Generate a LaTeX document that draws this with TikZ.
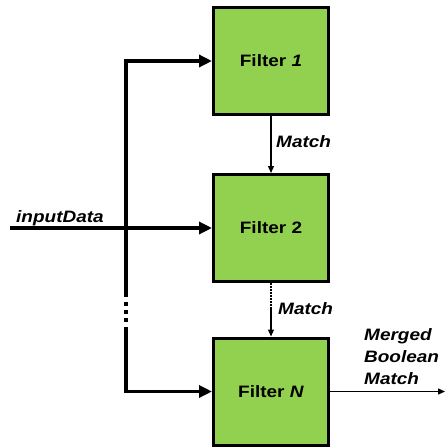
\documentclass[tikz,border=0pt]{standalone}
\usepackage{fontspec}
\usepackage{xcolor}
\usepackage{tikz}
\usetikzlibrary{arrows.meta}

\newfontfamily\diagfont[FakeStretch=1.15]{Liberation Sans}
\definecolor{filtergreen}{HTML}{92D050}

\tikzset{
  filterbox/.style={draw=black, line width=3pt, fill=filtergreen, inner sep=0pt,
    minimum width=115pt, minimum height=107pt, font=\diagfont\fontsize{16.5}{20}\bfseries},
  busline/.style={line width=3.5pt},
  busarrow/.style={busline, -{Triangle[length=13pt,width=12pt]}},
  matchline/.style={line width=1.2pt},
  matcharrow/.style={matchline, -{Triangle[length=7pt,width=6pt]}},
  sig/.style={inner sep=0pt, font=\diagfont\fontsize{16.5}{22}\bfseries\itshape}
}

\begin{document}
\begin{tikzpicture}[x=1pt, y=-1pt]
        \useasboundingbox (0,0) rectangle (445,447);

        % Filter blocks
        \node[filterbox] (filterA) at (271,61) {Filter \textit{1}};
        \node[filterbox] (filterB) at (271,228) {Filter 2};
        \node[filterbox] (filterN) at (271,391.5) {Filter \textit{N}};

        % Bus points
        \coordinate (busx) at (126,0);
        \coordinate (in) at (10,228);
        \coordinate (gapTop) at (126,297);
        \coordinate (dotsA) at (126,302);
        \coordinate (dotsB) at (126,322);
        \coordinate (gapBot) at (126,327);
        \coordinate (out) at (445,0);
        \coordinate (matchDots) at (271,308);

        % Input bus
        \draw[busarrow] (in) -- (filterB.west);
        \draw[busarrow] (gapTop) -- (busx |- filterA.west) -- (filterA.west);
        \draw[busline, dash pattern=on 3.5pt off 4.5pt] (dotsA) -- (dotsB);
        \draw[busarrow] (gapBot) -- (busx |- filterN.west) -- (filterN.west);

        % Match chain
        \draw[matcharrow] (filterA.south) -- (filterB.north);
        \draw[matchline, dash pattern=on 1.5pt off 1.5pt] (filterB.south) -- (matchDots);
        \draw[matcharrow] (matchDots) -- (filterN.north);
        \draw[matcharrow] (filterN.east) -- (out |- filterN.east);

        % Labels
        \node[sig, anchor=base west] (inLabel) at (16,222) {inputData};
        \node[sig, anchor=west] (matchA) at (276,142) {Match};
        \node[sig, anchor=west] (matchB) at (278,309) {Match};
        \node[sig, anchor=north west, align=left] (mergedLabel) at (364,328) {Merged\\Boolean\\Match};
    \end{tikzpicture}
\end{document}
